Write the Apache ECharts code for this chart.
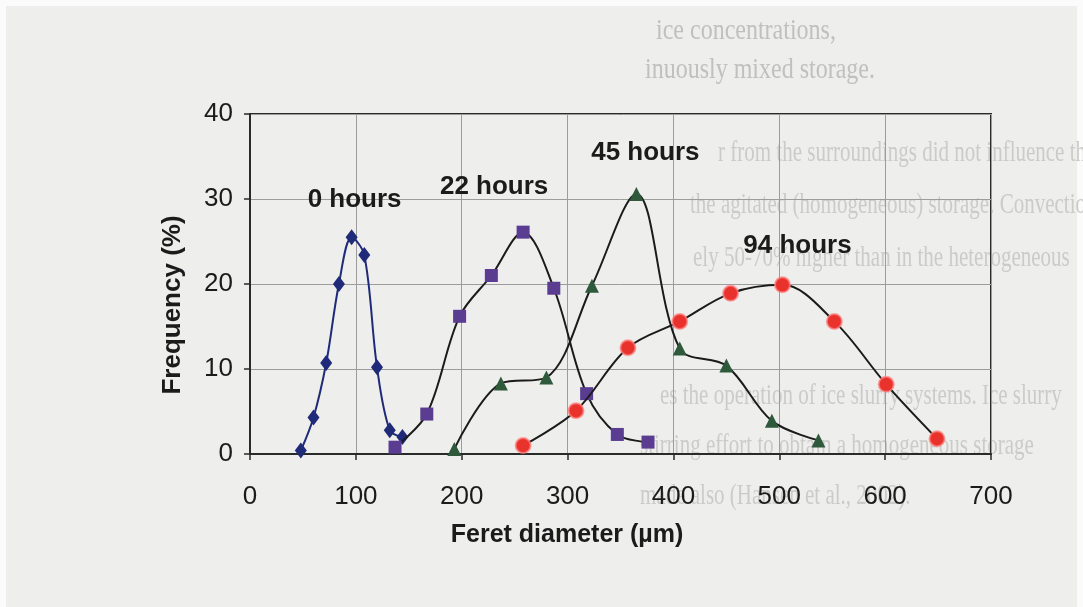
<!DOCTYPE html>
<html>
<head>
<meta charset="utf-8">
<title>Feret diameter distribution</title>
<script src="https://cdn.jsdelivr.net/npm/echarts/dist/echarts.min.js"></script>
<style>
  html, body { margin: 0; padding: 0; background: #eeeeec; }
  #chart { width: 1083px; height: 607px; }
</style>
</head>
<body>
<div id="chart"></div>
<script>
// Crystal size distributions after different storage times
const seriesNames = ['0 hours', '22 hours', '45 hours', '94 hours'];

// Feret diameter (µm)
const diam0h  = [48, 60, 72, 84, 96, 108, 120, 132, 144];
const diam22h = [137, 167, 198, 228, 258, 287, 318, 347, 376];
const diam45h = [193, 237, 280, 323, 365, 406, 450, 493, 537];
const diam94h = [258, 308, 357, 406, 454, 503, 552, 601, 649];

// Frequency (%)
const freq0h  = [0.4, 4.3, 10.7, 20.0, 25.5, 23.4, 10.2, 2.8, 2.0];
const freq22h = [0.8, 4.7, 16.2, 21.0, 26.1, 19.5, 7.1, 2.3, 1.4];
const freq45h = [0.6, 8.3, 9.0, 19.8, 30.6, 12.4, 10.4, 3.9, 1.6];
const freq94h = [1.0, 5.1, 12.5, 15.6, 18.9, 19.9, 15.6, 8.2, 1.8];

// Axis ticks
const xTicks = [0, 100, 200, 300, 400, 500, 600, 700];
const yTicks = [0, 10, 20, 30, 40];

const xTitle = 'Feret diameter (\u00b5m)';
const yTitle = 'Frequency (%)';

const diams = [diam0h, diam22h, diam45h, diam94h];
const freqs = [freq0h, freq22h, freq45h, freq94h];

// Marker look per series; the name label sits next to each curve's peak
const looks = {
  '0 hours':  { symbol: 'diamond',  size: [12, 16], fill: '#1f2a78', line: '#1f2a78', labelOffset: [3, -37] },
  '22 hours': { symbol: 'rect',     size: 13,       fill: '#5a3c90', line: '#1b1b1b', labelOffset: [-29, -45] },
  '45 hours': { symbol: 'triangle', size: 14,       fill: '#2e5a3b', line: '#1b1b1b', labelOffset: [9, -41] },
  '94 hours': { symbol: 'circle',   size: 15,       fill: '#e8322b', line: '#1b1b1b', labelOffset: [15, -39] }
};

const ink = '#1b1b1b';
const sans = '"Liberation Sans", Arial, sans-serif';
const serif = '"Liberation Serif", "DejaVu Serif", serif';

const series = seriesNames.map(function (name, k) {
  const xs = diams[k], ys = freqs[k], look = looks[name];
  const peak = ys.indexOf(Math.max.apply(null, ys));
  return {
    type: 'line',
    name: name,
    smooth: 0.34,
    symbol: look.symbol,
    symbolSize: look.size,
    showAllSymbol: true,
    lineStyle: { color: look.line, width: 2 },
    itemStyle: name === '94 hours'
      ? { color: look.fill, borderColor: 'rgba(255,130,130,0.7)', borderWidth: 2 }
      : { color: look.fill },
    z: 3 + k,
    data: xs.map(function (x, i) {
      if (i !== peak) return [x, ys[i]];
      return {
        value: [x, ys[i]],
        label: {
          show: true,
          position: 'inside',
          offset: look.labelOffset,
          formatter: name,
          color: ink,
          fontFamily: sans,
          fontWeight: 'bold',
          fontSize: 26
        }
      };
    })
  };
});

// Faint text from the printed page behind the figure
const pageLines = [
  { text: 'ice concentrations,', x: 656, y: 31, tone: '#c0c0be', squeeze: 0.8 },
  { text: 'inuously mixed storage.', x: 645, y: 70, tone: '#c0c0be', squeeze: 0.8 },
  { text: 'r from the surroundings did not influence the', x: 718, y: 153, tone: '#cbcbc9', squeeze: 0.7 },
  { text: 'the agitated (homogeneous) storage. Convection', x: 690, y: 205, tone: '#cbcbc9', squeeze: 0.7 },
  { text: 'ely 50-70% higher than in the heterogeneous', x: 693, y: 258, tone: '#cbcbc9', squeeze: 0.7 },
  { text: 'es the operation of ice slurry systems. Ice slurry', x: 660, y: 396, tone: '#cbcbc9', squeeze: 0.7 },
  { text: 'stirring effort to obtain a homogeneous storage', x: 640, y: 446, tone: '#cbcbc9', squeeze: 0.7 },
  { text: 'made also (Hansen et al., 2002).', x: 640, y: 496, tone: '#cbcbc9', squeeze: 0.7 }
];

const chart = echarts.init(document.getElementById('chart'), null, { renderer: 'canvas' });

chart.setOption({
  animation: false,
  backgroundColor: '#eeeeec',
  grid: {
    left: 250, right: 92, top: 114, bottom: 153,
    show: true,
    borderColor: '#2a2a2a',
    borderWidth: 2,
    backgroundColor: 'transparent'
  },
  xAxis: {
    type: 'value',
    min: xTicks[0],
    max: xTicks[xTicks.length - 1],
    interval: xTicks[1] - xTicks[0],
    axisLine: { show: true, lineStyle: { color: '#2a2a2a', width: 2 } },
    axisTick: { show: true, length: 6, lineStyle: { color: '#2a2a2a', width: 1.5 } },
    axisLabel: { color: ink, fontFamily: sans, fontSize: 26, margin: 30 },
    splitLine: { show: true, lineStyle: { color: '#9c9c9c', width: 1 } }
  },
  yAxis: {
    type: 'value',
    min: yTicks[0],
    max: yTicks[yTicks.length - 1],
    interval: yTicks[1] - yTicks[0],
    axisLine: { show: true, lineStyle: { color: '#2a2a2a', width: 2 } },
    axisTick: { show: true, length: 6, lineStyle: { color: '#2a2a2a', width: 1.5 } },
    axisLabel: { color: ink, fontFamily: sans, fontSize: 26, margin: 17 },
    splitLine: { show: true, lineStyle: { color: '#9c9c9c', width: 1 } }
  },
  series: series,
  graphic: {
    elements: [
      { type: 'rect', z: -200, shape: { x: 0, y: 0, width: 1083, height: 6 }, style: { fill: '#fbfbfb' } },
      { type: 'rect', z: -200, shape: { x: 0, y: 0, width: 6, height: 607 }, style: { fill: '#fbfbfb' } },
      { type: 'rect', z: -200, shape: { x: 1077, y: 0, width: 6, height: 607 }, style: { fill: '#fbfbfb' } }
    ].concat(pageLines.map(function (ln) {
      return {
        type: 'text', z: -100, x: ln.x, y: ln.y, scaleX: ln.squeeze,
        style: { text: ln.text, fill: ln.tone, font: '30px ' + serif, verticalAlign: 'middle', textVerticalAlign: 'middle' }
      };
    })).concat([
      {
        type: 'text', x: 173, y: 305, rotation: Math.PI / 2, z: 10,
        style: { text: yTitle, fill: ink, font: 'bold 26px ' + sans, align: 'center', verticalAlign: 'middle', textAlign: 'center', textVerticalAlign: 'middle' }
      },
      {
        type: 'text', x: 567, y: 535, z: 10,
        style: { text: xTitle, fill: ink, font: 'bold 25px ' + sans, align: 'center', verticalAlign: 'middle', textAlign: 'center', textVerticalAlign: 'middle' }
      }
    ])
  }
});
</script>
</body>
</html>
